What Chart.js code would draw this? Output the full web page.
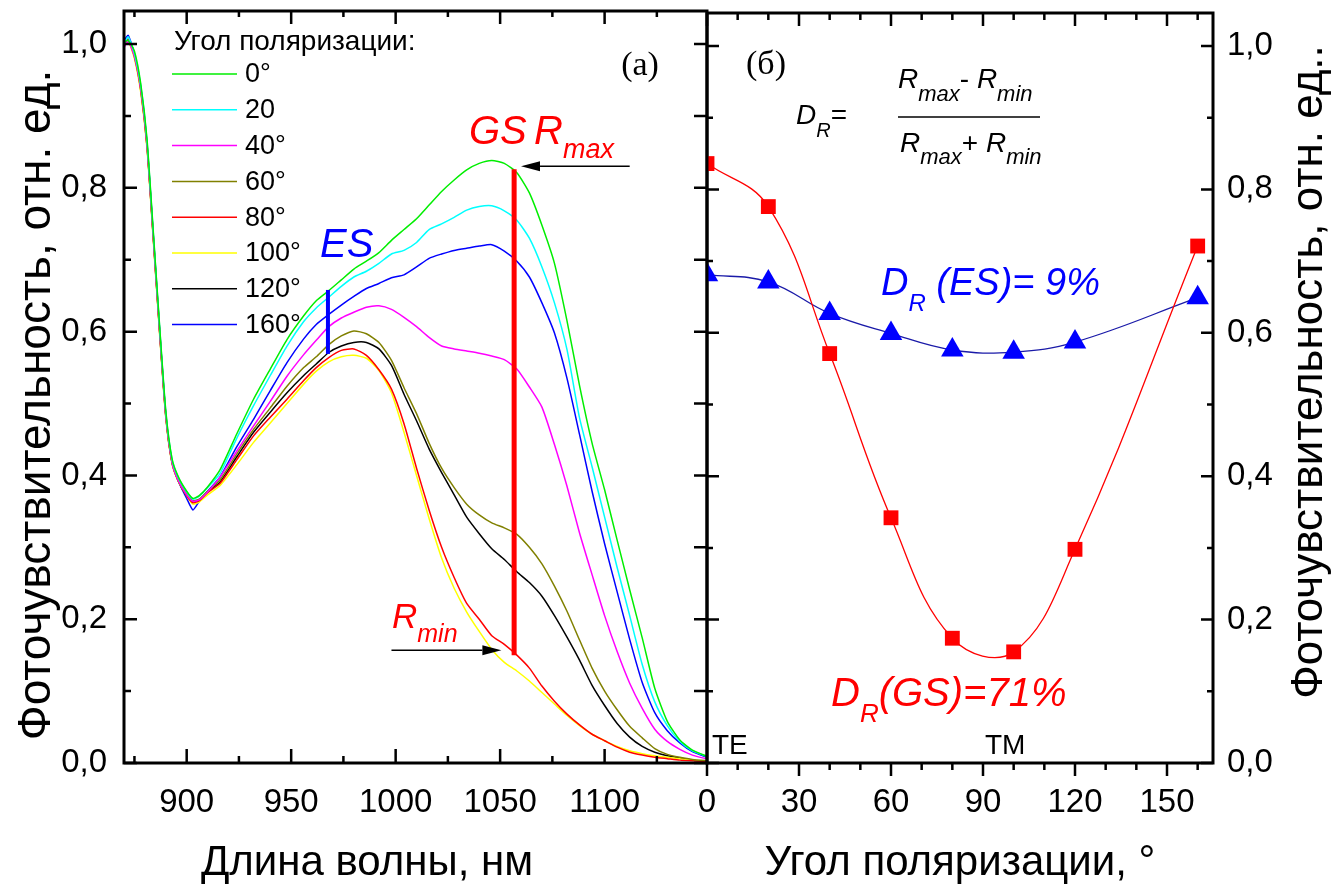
<!DOCTYPE html>
<html>
<head>
<meta charset="utf-8">
<script src="https://cdn.jsdelivr.net/npm/chart.js@4.4.1/dist/chart.umd.min.js"></script>
<style>
  html, body { margin: 0; padding: 0; background: #fff; }
  #wrap { position: relative; width: 1340px; height: 885px; overflow: hidden; }
  canvas { position: absolute; top: 0; }
  #left { left: 0; }
  #right { left: 660px; }
</style>
</head>
<body>
<div id="wrap">
  <canvas id="left" width="760" height="885"></canvas>
  <canvas id="right" width="680" height="885"></canvas>
</div>
<script>
// ===== Panel (a): spectra =====
const WAVELENGTH = [870, 872, 875, 878, 881, 884, 887, 890, 893, 896, 900, 903, 906, 910,
  916, 924, 932, 940, 948, 956, 962, 968, 974, 980, 986, 992, 998, 1004, 1010, 1016,
  1022, 1028, 1034, 1040, 1046, 1052, 1058, 1064, 1070, 1076, 1082, 1088, 1094, 1100,
  1106, 1112, 1118, 1124, 1130, 1136, 1142, 1150];

const R_0 = [1.003, 1.005, 0.99, 0.945, 0.868, 0.74, 0.61, 0.49, 0.423, 0.398, 0.378, 0.368, 0.372, 0.384,
  0.408, 0.458, 0.506, 0.548, 0.589, 0.622, 0.643, 0.657, 0.672, 0.687, 0.698, 0.71, 0.727, 0.742, 0.757, 0.776,
  0.795, 0.811, 0.825, 0.834, 0.838, 0.834, 0.821, 0.793, 0.748, 0.695, 0.615, 0.525, 0.445, 0.38,
  0.31, 0.241, 0.174, 0.104, 0.058, 0.032, 0.018, 0.008];
const R_20 = [1.0, 1.01, 0.987, 0.943, 0.865, 0.738, 0.608, 0.488, 0.422, 0.397, 0.377, 0.367, 0.371, 0.383,
  0.403, 0.452, 0.497, 0.539, 0.58, 0.614, 0.633, 0.648, 0.663, 0.676, 0.684, 0.695, 0.708, 0.713, 0.724, 0.742,
  0.75, 0.759, 0.769, 0.774, 0.775, 0.768, 0.755, 0.73, 0.69, 0.64, 0.575, 0.48, 0.412, 0.342,
  0.272, 0.205, 0.137, 0.085, 0.052, 0.03, 0.017, 0.008];
const R_40 = [0.995, 1.004, 0.983, 0.938, 0.86, 0.733, 0.603, 0.484, 0.418, 0.393, 0.373, 0.364, 0.366, 0.377,
  0.398, 0.434, 0.469, 0.503, 0.538, 0.568, 0.588, 0.607, 0.619, 0.627, 0.634, 0.636, 0.631, 0.62, 0.607, 0.592,
  0.58, 0.576, 0.573, 0.57, 0.566, 0.561, 0.548, 0.523, 0.495, 0.443, 0.385, 0.32, 0.262, 0.205,
  0.155, 0.111, 0.076, 0.047, 0.03, 0.019, 0.011, 0.005];
const R_60 = [1.0, 1.006, 0.984, 0.939, 0.861, 0.734, 0.604, 0.485, 0.419, 0.394, 0.374, 0.365, 0.367, 0.378,
  0.394, 0.43, 0.464, 0.494, 0.524, 0.55, 0.565, 0.582, 0.594, 0.601, 0.597, 0.585, 0.56, 0.522, 0.486, 0.445,
  0.41, 0.383, 0.36, 0.345, 0.334, 0.327, 0.318, 0.3, 0.277, 0.246, 0.211, 0.171, 0.132, 0.1,
  0.074, 0.051, 0.035, 0.02, 0.012, 0.008, 0.005, 0.003];
const R_80 = [1.0, 1.007, 0.983, 0.937, 0.859, 0.732, 0.602, 0.483, 0.418, 0.393, 0.372, 0.362, 0.365, 0.376,
  0.389, 0.422, 0.455, 0.481, 0.506, 0.532, 0.55, 0.564, 0.574, 0.576, 0.567, 0.547, 0.52, 0.472, 0.41, 0.352,
  0.3, 0.258, 0.222, 0.2, 0.177, 0.165, 0.15, 0.132, 0.107, 0.086, 0.068, 0.053, 0.04, 0.031,
  0.022, 0.015, 0.011, 0.008, 0.006, 0.004, 0.003, 0.002];
const R_100 = [0.998, 1.004, 0.98, 0.933, 0.855, 0.728, 0.598, 0.48, 0.416, 0.392, 0.372, 0.36, 0.363, 0.373,
  0.386, 0.415, 0.446, 0.473, 0.5, 0.527, 0.545, 0.558, 0.565, 0.567, 0.563, 0.546, 0.515, 0.46, 0.4, 0.34,
  0.285, 0.243, 0.21, 0.183, 0.158, 0.14, 0.128, 0.114, 0.098, 0.082, 0.066, 0.052, 0.04, 0.031,
  0.023, 0.017, 0.013, 0.01, 0.008, 0.006, 0.004, 0.003];
const R_120 = [1.0, 1.005, 0.982, 0.936, 0.858, 0.731, 0.601, 0.482, 0.417, 0.392, 0.372, 0.363, 0.366, 0.377,
  0.391, 0.426, 0.46, 0.488, 0.515, 0.539, 0.555, 0.571, 0.58, 0.585, 0.585, 0.576, 0.553, 0.513, 0.476, 0.437,
  0.404, 0.373, 0.342, 0.319, 0.298, 0.283, 0.266, 0.251, 0.232, 0.205, 0.175, 0.143, 0.108, 0.08,
  0.055, 0.036, 0.023, 0.015, 0.01, 0.007, 0.004, 0.002];
const R_160 = [1.005, 1.012, 0.986, 0.94, 0.862, 0.735, 0.605, 0.485, 0.418, 0.392, 0.368, 0.352, 0.364, 0.378,
  0.398, 0.44, 0.478, 0.518, 0.557, 0.59, 0.61, 0.624, 0.637, 0.649, 0.66, 0.667, 0.675, 0.679, 0.69, 0.702,
  0.708, 0.713, 0.716, 0.719, 0.721, 0.712, 0.698, 0.676, 0.64, 0.598, 0.535, 0.457, 0.378, 0.305,
  0.238, 0.172, 0.112, 0.07, 0.045, 0.028, 0.016, 0.007];

const LEGEND_LABELS = ['0°', '20', '40°', '60°', '80°', '100°', '120°', '160°'];
const SPECTRA = [R_0, R_20, R_40, R_60, R_80, R_100, R_120, R_160];
const SPECTRA_COLORS = ['#00ee00', '#00ffff', '#ff00ff', '#808000', '#ff0000', '#ffff00', '#000000', '#0000ff'];

const WL_TICKS = [900, 950, 1000, 1050, 1100];
const WL_MINOR = [875, 925, 975, 1025, 1075, 1125];
const Y_TICKS = [0, 0.2, 0.4, 0.6, 0.8, 1.0];
const Y_MINOR = [0.1, 0.3, 0.5, 0.7, 0.9];

// ===== Panel (б): dichroism vs polarization angle =====
const ANGLES = [0, 20, 40, 60, 80, 100, 120, 160];
const GS_VALUES = [0.836, 0.776, 0.571, 0.342, 0.174, 0.155, 0.298, 0.721];
const ES_VALUES = [0.681, 0.671, 0.627, 0.599, 0.576, 0.573, 0.587, 0.649];
const ANGLE_TICKS = [0, 30, 60, 90, 120, 150];
const ANGLE_MINOR = [10, 20, 40, 50, 70, 80, 100, 110, 130, 140, 160];

const FONT = '"Liberation Sans", Arial, sans-serif';
const SERIF = '"Liberation Serif", "Times New Roman", serif';
const TICK_FONT = { family: FONT, size: 33 };
const fmtY = v => v.toFixed(1).replace('.', ',');
const fmtX = v => String(v);

// ---- drawing helpers ----
function marks(ctx, a, s, values, edge, len) {
  ctx.beginPath();
  values.forEach(v => {
    const p = s.getPixelForValue(v);
    if (edge === 'bottom') { ctx.moveTo(p, a.bottom); ctx.lineTo(p, a.bottom - len); }
    if (edge === 'top')    { ctx.moveTo(p, a.top);    ctx.lineTo(p, a.top + len); }
    if (edge === 'left')   { ctx.moveTo(a.left, p);   ctx.lineTo(a.left + len, p); }
    if (edge === 'right')  { ctx.moveTo(a.right, p);  ctx.lineTo(a.right - len, p); }
  });
  ctx.stroke();
}

// parts: [text, size, dy, style]
function rich(ctx, x, y, parts, color) {
  ctx.fillStyle = color;
  ctx.textAlign = 'left';
  ctx.textBaseline = 'alphabetic';
  parts.forEach(([t, size, dy, style]) => {
    ctx.font = `${style || 'italic'} ${size}px ${FONT}`;
    ctx.fillText(t, x, y + (dy || 0));
    x += ctx.measureText(t).width;
  });
}

function vtext(ctx, t, cx, cy, size) {
  ctx.save();
  ctx.translate(cx, cy);
  ctx.rotate(-Math.PI / 2);
  ctx.font = `${size}px ${FONT}`;
  ctx.fillStyle = '#000';
  ctx.textAlign = 'center';
  ctx.textBaseline = 'middle';
  ctx.fillText(t, 0, 0);
  ctx.restore();
}

function htext(ctx, t, cx, y, size) {
  ctx.font = `${size}px ${FONT}`;
  ctx.fillStyle = '#000';
  ctx.textAlign = 'center';
  ctx.textBaseline = 'alphabetic';
  ctx.fillText(t, cx, y);
}

function arrow(ctx, x1, y, x2, head, half) {
  const dir = Math.sign(x2 - x1);
  ctx.beginPath();
  ctx.moveTo(x1, y);
  ctx.lineTo(x2 - dir * head, y);
  ctx.stroke();
  ctx.beginPath();
  ctx.moveTo(x2, y);
  ctx.lineTo(x2 - dir * head, y - half);
  ctx.lineTo(x2 - dir * head, y + half);
  ctx.closePath();
  ctx.fill();
}

function fixedTicks(values) {
  return s => { s.ticks = values.map(v => ({ value: v })); };
}

// axis box of fixed size, no extra label padding pushed into the chart area
function fixSize(prop, size) {
  return s => {
    s[prop] = size;
    s.paddingTop = 0; s.paddingBottom = 0; s.paddingLeft = 0; s.paddingRight = 0;
  };
}

// ===== Left chart decorations =====
const leftDecor = {
  id: 'leftDecor',
  afterDatasetsDraw(chart) {
    const { ctx, chartArea: a, scales: { x, y } } = chart;
    ctx.save();
    ctx.strokeStyle = '#000';
    ctx.lineWidth = 3;
    ctx.strokeRect(a.left, a.top, a.right - a.left, a.bottom - a.top);
    ctx.lineWidth = 2.5;
    marks(ctx, a, x, WL_TICKS, 'bottom', 14);
    marks(ctx, a, x, WL_MINOR, 'bottom', 7);
    marks(ctx, a, x, WL_TICKS, 'top', 13);
    marks(ctx, a, x, WL_MINOR, 'top', 6);
    marks(ctx, a, y, Y_TICKS, 'left', 13);
    marks(ctx, a, y, Y_MINOR, 'left', 7);
    marks(ctx, a, y, Y_TICKS, 'right', 13);
    marks(ctx, a, y, Y_MINOR, 'right', 13);

    // legend
    ctx.font = `28px ${FONT}`;
    ctx.fillStyle = '#000';
    ctx.textAlign = 'left';
    ctx.textBaseline = 'alphabetic';
    ctx.fillText('Угол поляризации:', 174, 50);
    chart.data.datasets.forEach((ds, i) => {
      const ly = 74 + i * 35.8;
      ctx.strokeStyle = ds.borderColor;
      ctx.lineWidth = 1.5;
      ctx.beginPath();
      ctx.moveTo(172, ly);
      ctx.lineTo(237, ly);
      ctx.stroke();
      ctx.font = `27px ${FONT}`;
      ctx.fillStyle = '#000';
      ctx.textBaseline = 'middle';
      ctx.fillText(ds.label, 245, ly + 1);
    });

    // ES marker
    ctx.strokeStyle = '#0000ff';
    ctx.lineWidth = 4;
    ctx.beginPath();
    ctx.moveTo(x.getPixelForValue(967.6), y.getPixelForValue(0.658));
    ctx.lineTo(x.getPixelForValue(967.6), y.getPixelForValue(0.569));
    ctx.stroke();
    rich(ctx, 320, 257, [['ES', 40, 0]], '#0000ff');

    // GS line between Rmin and Rmax
    ctx.strokeStyle = '#ff0000';
    ctx.lineWidth = 5;
    ctx.beginPath();
    ctx.moveTo(x.getPixelForValue(1056.7), y.getPixelForValue(0.826));
    ctx.lineTo(x.getPixelForValue(1056.7), y.getPixelForValue(0.150));
    ctx.stroke();

    ctx.strokeStyle = '#000';
    ctx.fillStyle = '#000';
    ctx.lineWidth = 1.5;
    arrow(ctx, x.getPixelForValue(1112), y.getPixelForValue(0.830), x.getPixelForValue(1060), 19, 5);
    arrow(ctx, x.getPixelForValue(998), y.getPixelForValue(0.157), x.getPixelForValue(1050.6), 19, 5);

    rich(ctx, 469, 144, [['GS', 40, 0]], '#ff0000');
    rich(ctx, 534, 144, [['R', 40, 0], ['max', 27, 14]], '#ff0000');
    rich(ctx, 392, 628, [['R', 35, 0], ['min', 25, 14]], '#ff0000');

    ctx.font = `34px ${SERIF}`;
    ctx.fillStyle = '#000';
    ctx.textAlign = 'center';
    ctx.textBaseline = 'middle';
    ctx.fillText('(а)', 640, 66);

    vtext(ctx, 'Фоточувствительность, отн. ед.', 37, 405, 46);
    htext(ctx, 'Длина волны, нм', 367, 875, 42);
    ctx.restore();
  }
};

// ===== Right chart decorations (page coordinates, canvas starts at x=660) =====
const OFFSET_R = 660;
const rightDecor = {
  id: 'rightDecor',
  afterDatasetsDraw(chart) {
    const { ctx, chartArea: a, scales: { x, y } } = chart;
    ctx.save();
    ctx.strokeStyle = '#000';
    ctx.lineWidth = 3;
    ctx.strokeRect(a.left, a.top, a.right - a.left, a.bottom - a.top);
    ctx.lineWidth = 2.5;
    marks(ctx, a, x, ANGLE_TICKS, 'bottom', -13);
    marks(ctx, a, x, ANGLE_MINOR, 'bottom', -7);
    marks(ctx, a, x, ANGLE_TICKS, 'top', 13);
    marks(ctx, a, x, ANGLE_MINOR, 'top', 7);
    marks(ctx, a, y, Y_TICKS, 'right', 12);
    marks(ctx, a, y, Y_MINOR, 'right', 6);
    marks(ctx, a, y, Y_TICKS, 'left', 12);
    marks(ctx, a, y, Y_MINOR, 'left', 6);

    ctx.translate(-OFFSET_R, 0);
    ctx.font = `34px ${SERIF}`;
    ctx.fillStyle = '#000';
    ctx.textAlign = 'center';
    ctx.textBaseline = 'middle';
    ctx.fillText('(б)', 766, 65);

    // D_R = (Rmax - Rmin) / (Rmax + Rmin)
    rich(ctx, 796, 124, [['D', 28, 0], ['R', 20, 13], ['=', 28, 0, 'normal']], '#000');
    rich(ctx, 898, 88, [['R', 28, 0], ['max', 22, 13], ['- ', 28, 0, 'normal'], ['R', 28, 0], ['min', 22, 13]], '#000');
    rich(ctx, 900, 152, [['R', 28, 0], ['max', 22, 12], ['+ ', 28, 0, 'normal'], ['R', 28, 0], ['min', 22, 12]], '#000');
    ctx.strokeStyle = '#000';
    ctx.lineWidth = 1.5;
    ctx.beginPath();
    ctx.moveTo(898, 117);
    ctx.lineTo(1040, 117);
    ctx.stroke();

    rich(ctx, 881, 295, [['D', 38, 0], ['R', 24, 16], [' (ES)= 9%', 38, 0]], '#0000ff');
    rich(ctx, 831, 706, [['D', 40, 0], ['R', 26, 16], ['(GS)=71%', 40, 0]], '#ff0000');

    rich(ctx, 712, 754, [['TE', 28, 0, 'normal']], '#000');
    rich(ctx, 985, 754, [['TM', 28, 0, 'normal']], '#000');

    vtext(ctx, 'Фоточувствительность, отн. ед..', 1310, 372, 44);
    htext(ctx, 'Угол поляризации, °', 960, 875, 42);
    ctx.restore();
  }
};

const hiddenGrid = { display: false, drawTicks: false };

new Chart(document.getElementById('left'), {
  type: 'line',
  data: {
    datasets: SPECTRA.map((vals, i) => ({
      label: LEGEND_LABELS[i],
      data: WAVELENGTH.map((w, j) => ({ x: w, y: vals[j] })),
      borderColor: SPECTRA_COLORS[i],
      borderWidth: 1.5,
      pointRadius: 0,
      tension: 0.2,
      fill: false
    }))
  },
  options: {
    responsive: false,
    animation: false,
    events: [],
    layout: { padding: { top: 11, right: 53, left: 0, bottom: 0 } },
    plugins: { legend: { display: false }, tooltip: { enabled: false } },
    scales: {
      x: {
        type: 'linear', min: 870, max: 1149,
        afterBuildTicks: fixedTicks(WL_TICKS),
        afterFit: fixSize('height', 122),
        grid: hiddenGrid, border: { display: false },
        ticks: { font: TICK_FONT, color: '#000', padding: 20, maxRotation: 0, callback: fmtX }
      },
      y: {
        min: 0, max: 1.046,
        afterBuildTicks: fixedTicks(Y_TICKS),
        afterFit: fixSize('width', 124),
        grid: hiddenGrid, border: { display: false },
        ticks: { font: TICK_FONT, color: '#000', padding: 17, callback: fmtY }
      }
    }
  },
  plugins: [leftDecor]
});

new Chart(document.getElementById('right'), {
  type: 'line',
  data: {
    datasets: [
      {
        label: 'GS',
        data: ANGLES.map((a, i) => ({ x: a, y: GS_VALUES[i] })),
        borderColor: '#ff0000', borderWidth: 1.3, tension: 0.4,
        pointStyle: 'rect', pointRadius: 10.5, pointBorderWidth: 0,
        pointBackgroundColor: '#ff0000', clip: 0
      },
      {
        label: 'ES',
        data: ANGLES.map((a, i) => ({ x: a, y: ES_VALUES[i] })),
        borderColor: '#1a1aa8', borderWidth: 1.3, tension: 0.4,
        pointStyle: 'triangle', pointRadius: 13, pointBorderWidth: 0,
        pointBackgroundColor: '#0000ff', clip: 0
      }
    ]
  },
  options: {
    responsive: false,
    animation: false,
    events: [],
    layout: { padding: { top: 11, right: 0, left: 47, bottom: 0 } },
    plugins: { legend: { display: false }, tooltip: { enabled: false } },
    scales: {
      x: {
        type: 'linear', min: 0, max: 165,
        afterBuildTicks: fixedTicks(ANGLE_TICKS),
        afterFit: fixSize('height', 122),
        grid: hiddenGrid, border: { display: false },
        ticks: { font: TICK_FONT, color: '#000', padding: 20, maxRotation: 0, callback: fmtX }
      },
      y: {
        position: 'right', min: 0, max: 1.046,
        afterBuildTicks: fixedTicks(Y_TICKS),
        afterFit: fixSize('width', 127),
        grid: hiddenGrid, border: { display: false },
        ticks: { font: TICK_FONT, color: '#000', padding: 14, callback: fmtY }
      }
    }
  },
  plugins: [rightDecor]
});
</script>
</body>
</html>
